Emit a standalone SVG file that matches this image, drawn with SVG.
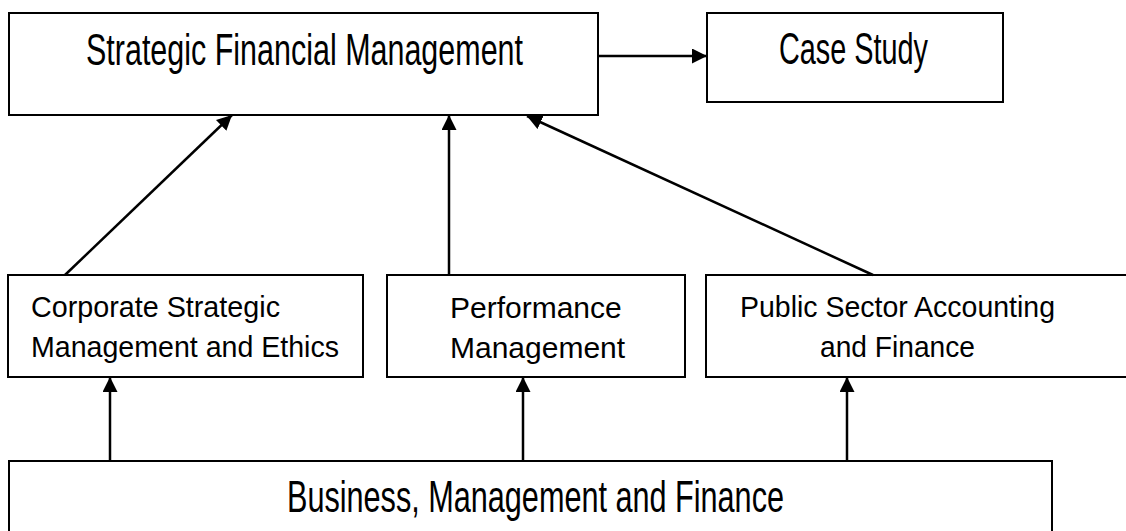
<svg xmlns="http://www.w3.org/2000/svg" width="1126" height="531" viewBox="0 0 1126 531">
<style>
.box{fill:#fff;stroke:#000;stroke-width:2}
.t{font-family:"Liberation Sans",Arial,sans-serif;fill:#000}
.big{font-size:44px}
.mid{font-size:30px}
.c{fill:none;stroke:#000;stroke-width:2.5}
</style>
<defs>
<marker id="ah" markerUnits="userSpaceOnUse" markerWidth="17" markerHeight="16" refX="15" refY="7.5" orient="auto">
<path d="M0,0 L15,7.5 L0,15 Z" fill="#000"/>
</marker>
</defs>
<rect width="1126" height="531" fill="#fff"/>
<g id="sfm">
<rect class="box" x="9" y="13" width="589" height="102"/>
<text class="t big" x="86" y="65" textLength="437" lengthAdjust="spacingAndGlyphs">Strategic Financial Management</text>
</g>
<g id="case">
<rect class="box" x="707" y="13" width="296" height="89"/>
<text class="t big" x="779" y="64" textLength="149" lengthAdjust="spacingAndGlyphs">Case Study</text>
</g>
<g id="csme">
<rect class="box" x="8" y="275" width="355" height="102"/>
<text class="t mid" x="31" y="317" textLength="249" lengthAdjust="spacingAndGlyphs">Corporate Strategic</text>
<text class="t mid" x="31" y="357" textLength="308" lengthAdjust="spacingAndGlyphs">Management and Ethics</text>
</g>
<g id="perf">
<rect class="box" x="387" y="275" width="298" height="102"/>
<text class="t mid" x="450" y="318">Performance</text>
<text class="t mid" x="450" y="358">Management</text>
</g>
<g id="psaf">
<rect class="box" x="706" y="275" width="460" height="102"/>
<text class="t mid" x="740" y="317" textLength="315" lengthAdjust="spacingAndGlyphs">Public Sector Accounting</text>
<text class="t mid" x="820" y="357" textLength="155" lengthAdjust="spacingAndGlyphs">and Finance</text>
</g>
<g id="bmf">
<rect class="box" x="9" y="461" width="1043" height="100"/>
<text class="t big" x="287" y="512" textLength="497" lengthAdjust="spacingAndGlyphs">Business, Management and Finance</text>
</g>
<g id="connectors">
<line class="c" x1="598" y1="56" x2="707" y2="56" marker-end="url(#ah)"/>
<line class="c" x1="65" y1="275" x2="232" y2="115" marker-end="url(#ah)"/>
<line class="c" x1="449" y1="275" x2="449" y2="115" marker-end="url(#ah)"/>
<line class="c" x1="873" y1="275" x2="527" y2="116" marker-end="url(#ah)"/>
<line class="c" x1="110" y1="461" x2="110" y2="377" marker-end="url(#ah)"/>
<line class="c" x1="523" y1="461" x2="523" y2="377" marker-end="url(#ah)"/>
<line class="c" x1="847" y1="461" x2="847" y2="377" marker-end="url(#ah)"/>
</g>
</svg>
